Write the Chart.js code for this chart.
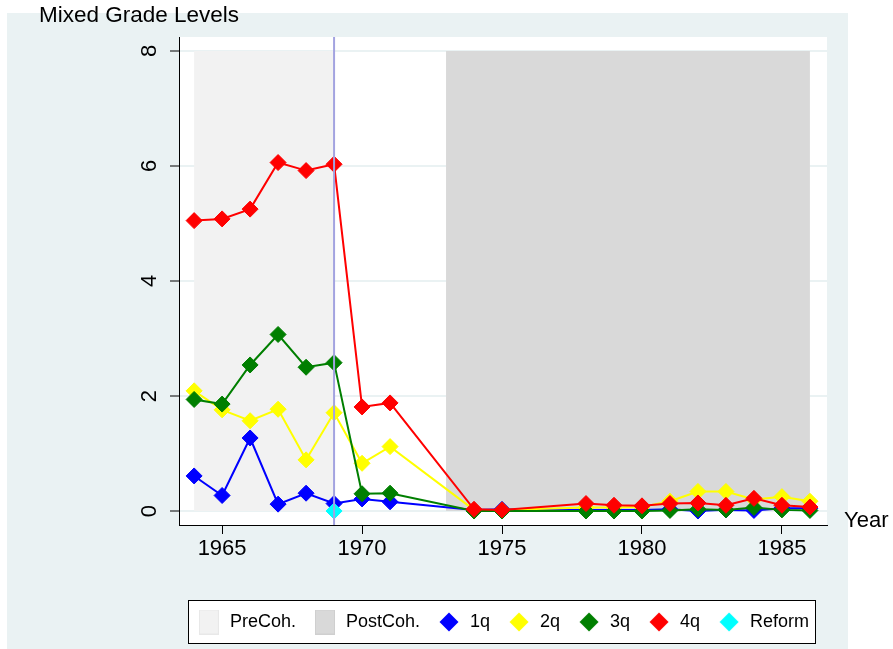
<!DOCTYPE html>
<html>
<head>
<meta charset="utf-8">
<script src="https://cdn.jsdelivr.net/npm/chart.js@4.4.1/dist/chart.umd.min.js"></script>
<style>
  html, body { margin: 0; padding: 0; background: #fff; }
  #wrap { width: 893px; height: 649px; }
</style>
</head>
<body>
<div id="wrap"><canvas id="chart" width="893" height="649"></canvas></div>
<script>
// data
const years = [1964, 1965, 1966, 1967, 1968, 1969, 1970, 1971, 1974, 1975, 1978, 1979, 1980, 1981, 1982, 1983, 1984, 1985, 1986];
const q1 = [0.61, 0.27, 1.27, 0.12, 0.31, 0.13, 0.21, 0.16, 0.02, 0.03, 0.02, 0.02, 0.02, 0.03, 0.00, 0.02, 0.01, 0.05, 0.05];
const q2 = [2.09, 1.76, 1.57, 1.77, 0.89, 1.71, 0.83, 1.12, 0.02, 0.02, 0.06, 0.06, 0.07, 0.17, 0.34, 0.34, 0.20, 0.25, 0.17];
const q3 = [1.94, 1.86, 2.54, 3.07, 2.50, 2.58, 0.30, 0.31, 0.00, 0.00, 0.00, 0.00, 0.00, 0.01, 0.03, 0.02, 0.06, 0.02, 0.01];
const q4 = [5.05, 5.08, 5.25, 6.06, 5.92, 6.03, 1.81, 1.88, 0.03, 0.02, 0.13, 0.10, 0.09, 0.13, 0.14, 0.10, 0.22, 0.10, 0.07];
const reformYear = [1969];
const reformVal = [0];
const preCoh = [1964, 1969];
const postCoh = [1973, 1986];
const shadeTop = 8;
const xTicks = [1965, 1970, 1975, 1980, 1985];
const yTicks = [0, 2, 4, 6, 8];
const xMin = 1963.46, xMax = 1986.61;
const yMin = -0.243, yMax = 8.243;
const yTitle = "Mixed Grade Levels";
const xTitle = "Year";

const FONT = '"Liberation Sans", Arial, Helvetica, sans-serif';
Chart.defaults.font.family = FONT;
Chart.defaults.color = '#000';

const toXY = (xs, vals) => xs.map((x, i) => ({x: x, y: vals[i]}));

function series(label, vals, color, order) {
  return {
    label: label, data: toXY(years, vals), order: order,
    borderColor: color, backgroundColor: color, borderWidth: 2, tension: 0, fill: false,
    pointStyle: 'rectRot', pointRadius: 8, pointHoverRadius: 8, pointBorderWidth: 1,
    pointBackgroundColor: color, pointBorderColor: color
  };
}
function shade(label, span, color, order) {
  return {
    label: label, data: span.map(x => ({x: x, y: shadeTop})), order: order,
    borderWidth: 0, pointRadius: 0, pointHoverRadius: 0,
    backgroundColor: color, borderColor: color, fill: 'origin'
  };
}

const datasets = [
  shade('PreCoh.', preCoh, '#f2f2f2', 6),
  shade('PostCoh.', postCoh, '#d9d9d9', 7),
  series('1q', q1, '#0000ff', 5),
  series('2q', q2, '#ffff00', 4),
  series('3q', q3, '#007f00', 3),
  series('4q', q4, '#ff0000', 2),
  Object.assign(series('Reform', [], '#00ffff', 1), {data: toXY(reformYear, reformVal), showLine: false}),
  {
    label: 'line', data: [{x: reformYear[0], y: yMin}, {x: reformYear[0], y: yMax}], order: 0,
    borderColor: '#a3a3e0', borderWidth: 2, pointRadius: 0, pointHoverRadius: 0, fill: false
  }
];

// legend symbols
function rectIcon(fill, edge) {
  const c = document.createElement('canvas');
  c.width = 20; c.height = 25;
  const g = c.getContext('2d');
  g.fillStyle = edge; g.fillRect(0, 0, 20, 25);
  g.fillStyle = fill; g.fillRect(1, 1, 18, 23);
  return c;
}
function diamondIcon(color) {
  const c = document.createElement('canvas');
  c.width = 20; c.height = 20;
  const g = c.getContext('2d');
  g.fillStyle = color;
  g.beginPath();
  g.moveTo(10, 0.5); g.lineTo(19.5, 10); g.lineTo(10, 19.5); g.lineTo(0.5, 10);
  g.closePath(); g.fill();
  return c;
}
const icons = [
  rectIcon('#f2f2f2', '#e8e8e8'), rectIcon('#d9d9d9', '#cfcfcf'),
  diamondIcon('#0000ff'), diamondIcon('#ffff00'), diamondIcon('#007f00'),
  diamondIcon('#ff0000'), diamondIcon('#00ffff')
];

const frame = {
  id: 'frame',
  beforeDraw(chart) {
    const {ctx, chartArea: a, legend} = chart;
    ctx.save();
    ctx.fillStyle = '#fff';
    ctx.fillRect(0, 0, chart.width, chart.height);
    ctx.fillStyle = '#eaf2f3';
    ctx.fillRect(7, 13, 841, chart.height - 13);
    ctx.fillStyle = '#fff';
    ctx.fillRect(a.left, a.top, a.right - a.left, a.bottom - a.top);
    const hb = legend.legendHitBoxes;
    if (hb && hb.length) {
      const last = hb[hb.length - 1];
      const l = Math.round(hb[0].left - 9), r = Math.round(last.left + last.width + 6);
      const t = Math.round(legend.top + 4), b = Math.round(legend.top + 47);
      ctx.fillRect(l, t, r - l, b - t);
      ctx.strokeStyle = '#000';
      ctx.lineWidth = 1;
      ctx.strokeRect(l + 0.5, t + 0.5, r - l, b - t);
    }
    ctx.restore();
  },
  afterDraw(chart) {
    const ctx = chart.ctx;
    ctx.save();
    ctx.fillStyle = '#000';
    ctx.textAlign = 'left';
    ctx.textBaseline = 'alphabetic';
    ctx.font = '22.5px ' + FONT;
    ctx.fillText(yTitle, 39, 21.5);
    ctx.font = '22px ' + FONT;
    ctx.fillText(xTitle, 844, 527);
    ctx.restore();
  }
};

new Chart(document.getElementById('chart'), {
  type: 'line',
  data: {datasets: datasets},
  plugins: [frame],
  options: {
    responsive: false,
    animation: false,
    layout: {padding: {left: 0, right: 66, top: 37, bottom: 8}},
    plugins: {
      tooltip: {enabled: false},
      legend: {
        position: 'bottom',
        fullSize: false,
        labels: {
          usePointStyle: true,
          pointStyleWidth: 24,
          padding: 17,
          color: '#000',
          font: {size: 18},
          generateLabels: (chart) => icons.map((icon, i) => ({
            text: chart.data.datasets[i].label,
            pointStyle: icon,
            fillStyle: chart.data.datasets[i].backgroundColor,
            strokeStyle: chart.data.datasets[i].backgroundColor,
            lineWidth: 0,
            hidden: false,
            fontColor: '#000',
            datasetIndex: i
          }))
        },
        onClick: () => {}
      }
    },
    scales: {
      x: {
        type: 'linear', min: xMin, max: xMax,
        afterBuildTicks: s => { s.ticks = xTicks.map(v => ({value: v})); },
        afterFit: s => { s.height = 71; },
        grid: {drawOnChartArea: false, drawTicks: true, tickLength: 9, tickColor: '#000', tickWidth: 1},
        border: {color: '#000', width: 1},
        ticks: {color: '#000', font: {size: 22}, padding: 2, maxRotation: 0, autoSkip: false, callback: v => String(v)}
      },
      y: {
        type: 'linear', min: yMin, max: yMax,
        afterBuildTicks: s => { s.ticks = yTicks.map(v => ({value: v})); },
        afterFit: s => { s.width = 179; },
        grid: {color: '#eaf2f3', lineWidth: 2, tickLength: 9, tickColor: '#000', tickWidth: 1},
        border: {color: '#000', width: 1},
        ticks: {color: '#000', font: {size: 22}, padding: 14, minRotation: 90, maxRotation: 90, crossAlign: 'center', autoSkip: false, callback: v => String(v)}
      }
    }
  }
});
</script>
</body>
</html>
